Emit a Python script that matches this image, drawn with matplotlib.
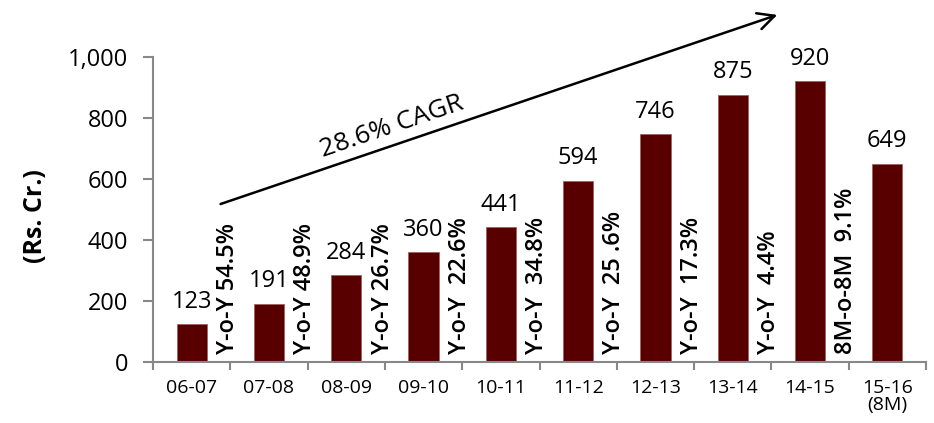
import matplotlib
matplotlib.use("Agg")
import matplotlib.pyplot as plt
import numpy as np

categories = ["06-07", "07-08", "08-09", "09-10", "10-11", "11-12", "12-13", "13-14", "14-15", "15-16\n(8M)"]
values = [123, 191, 284, 360, 441, 594, 746, 875, 920, 649]
growth_labels = ["Y-o-Y 54.5%", "Y-o-Y 48.9%", "Y-o-Y 26.7%", "Y-o-Y  22.6%", "Y-o-Y  34.8%",
                 "Y-o-Y  25 .6%", "Y-o-Y  17.3%", "Y-o-Y  4.4%", "8M-o-8M  9.1%"]
yticks = [0, 200, 400, 600, 800, 1000]
ytick_labels = ["0", "200", "400", "600", "800", "1,000"]
cagr_label = "28.6% CAGR"

plt.rcParams['font.family'] = ['Open Sans', 'DejaVu Sans']

fig = plt.figure(figsize=(9.34, 4.23), dpi=100)
ax = fig.add_axes([153/934, 1-362/423, (926-153)/934, (362-57)/423])

x = np.arange(len(categories))
ax.bar(x, values, width=0.39, color="#580000", edgecolor="#a06060", linewidth=0.6, zorder=2)

for xi, v in zip(x, values):
    ax.text(xi, v + 35, str(v), ha="center", va="bottom", fontsize=17, color="black")

for i, lab in enumerate(growth_labels):
    ax.text(i + 0.47, 25, lab, rotation=90, ha="center", va="bottom", fontsize=17,
            fontweight="semibold", color="black")

ax.set_xlim(-0.5, len(categories) - 0.5)
ax.set_ylim(0, 1000)
ax.set_yticks(yticks)
ax.set_yticklabels(ytick_labels, fontsize=17)
ax.set_xticks(x)
ax.set_xticklabels(categories, fontsize=14, linespacing=0.95)
ax.set_xticks(np.arange(-0.5, len(categories), 1.0), minor=True)
ax.tick_params(axis="x", which="major", length=0, pad=12)
ax.tick_params(axis="x", which="minor", length=6, color="#888888", width=1.5, direction="out")
ax.tick_params(axis="y", length=7, color="#888888", width=1.5, direction="out", pad=11)

for s in ["top", "right"]:
    ax.spines[s].set_visible(False)
for s in ["left", "bottom"]:
    ax.spines[s].set_color("#888888")
    ax.spines[s].set_linewidth(1.5)

ax.set_ylabel("(Rs. Cr.)", fontsize=18, fontweight="bold")
ax.yaxis.set_label_coords(-0.136, 0.48)

ax.annotate("", xy=(7.61, 1141), xytext=(0.34, 515),
            arrowprops=dict(arrowstyle="->", color="black", lw=1.8, mutation_scale=30),
            annotation_clip=False)
ax.text(2.59, 770, cagr_label, rotation=18.8, rotation_mode="anchor", ha="center", va="center",
        fontsize=19, color="black")

fig.savefig("out.png", dpi=100)
